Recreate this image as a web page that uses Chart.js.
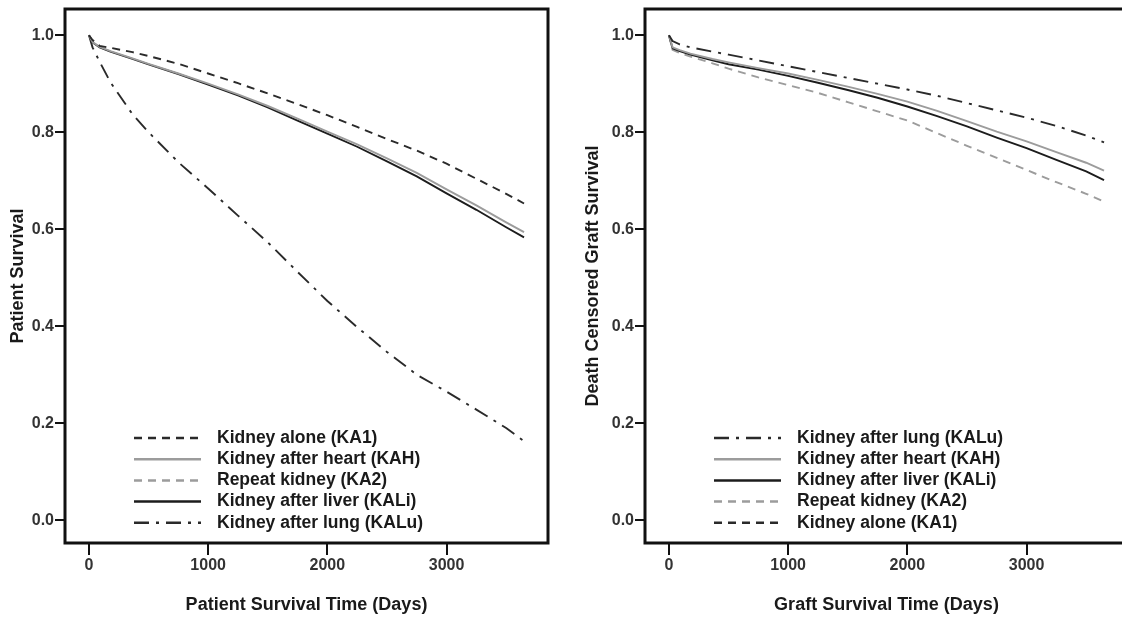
<!DOCTYPE html>
<html>
<head>
<meta charset="utf-8">
<script src="https://cdn.jsdelivr.net/npm/chart.js@4/dist/chart.umd.min.js"></script>
<style>
html, body { margin: 0; padding: 0; background: #fff; overflow: hidden; }
#wrap { position: relative; width: 1122px; height: 620px; overflow: hidden; }
#left { position: absolute; left: 0; top: 0; }
#right { position: absolute; left: 561px; top: 0; }
</style>
</head>
<body>
<div id="wrap">
  <canvas id="left" width="561" height="620"></canvas>
  <canvas id="right" width="590" height="620"></canvas>
</div>
<script>
// follow-up time in days
const days = [0, 30, 90, 180, 365, 500, 750, 1000, 1250, 1500, 1750, 2000, 2250, 2500, 2750, 3000, 3250, 3500, 3650];

// patient survival (left panel)
const patKA1  = [1.0, 0.990, 0.978, 0.974, 0.965, 0.957, 0.941, 0.921, 0.901, 0.880, 0.858, 0.835, 0.811, 0.786, 0.762, 0.735, 0.704, 0.673, 0.653];
const patKAH  = [1.0, 0.986, 0.976, 0.967, 0.952, 0.941, 0.921, 0.900, 0.878, 0.854, 0.828, 0.801, 0.775, 0.746, 0.716, 0.682, 0.649, 0.614, 0.594];
const patKA2  = [];
const patKALi = [1.0, 0.985, 0.975, 0.966, 0.951, 0.940, 0.920, 0.898, 0.876, 0.851, 0.824, 0.797, 0.770, 0.740, 0.709, 0.674, 0.640, 0.604, 0.583];
const patKALu = [1.0, 0.975, 0.945, 0.903, 0.837, 0.800, 0.738, 0.684, 0.628, 0.573, 0.512, 0.452, 0.398, 0.347, 0.300, 0.265, 0.228, 0.190, 0.163];

// death censored graft survival (right panel)
const grfKALu = [1.0, 0.988, 0.981, 0.975, 0.966, 0.960, 0.948, 0.936, 0.924, 0.912, 0.900, 0.888, 0.875, 0.860, 0.845, 0.830, 0.813, 0.793, 0.779];
const grfKAH  = [1.0, 0.975, 0.969, 0.962, 0.951, 0.944, 0.932, 0.921, 0.908, 0.894, 0.879, 0.863, 0.844, 0.823, 0.801, 0.781, 0.759, 0.737, 0.721];
const grfKALi = [1.0, 0.973, 0.967, 0.960, 0.948, 0.940, 0.929, 0.916, 0.902, 0.887, 0.871, 0.853, 0.833, 0.812, 0.789, 0.767, 0.743, 0.719, 0.701];
const grfKA2  = [1.0, 0.970, 0.963, 0.956, 0.942, 0.931, 0.913, 0.897, 0.881, 0.862, 0.843, 0.824, 0.798, 0.772, 0.747, 0.722, 0.697, 0.673, 0.657];
const grfKA1  = [];

const xTicks = [0, 1000, 2000, 3000];
const yTicks = [0.0, 0.2, 0.4, 0.6, 0.8, 1.0];

const labels = {
    KA1: 'Kidney alone (KA1)',
    KAH: 'Kidney after heart (KAH)',
    KA2: 'Repeat kidney (KA2)',
    KALi: 'Kidney after liver (KALi)',
    KALu: 'Kidney after lung (KALu)'
};

const styles = {
    KA1:  { color: '#2a2a2a', dash: [8, 6] },
    KAH:  { color: '#9c9c9c', dash: [] },
    KA2:  { color: '#9c9c9c', dash: [8, 6] },
    KALi: { color: '#1c1c1c', dash: [] },
    KALu: { color: '#2a2a2a', dash: [15, 7, 3, 7] }
};

const FONT = '"Liberation Sans", Arial, sans-serif';

function series(key, values) {
    return {
        label: labels[key],
        data: values.map((v, i) => ({ x: days[i], y: v })),
        borderColor: styles[key].color,
        borderDash: styles[key].dash,
        borderWidth: 1.9,
        pointRadius: 0,
        tension: 0,
        fill: false
    };
}

// legend drawn inside the plot box, lower left
const insideLegend = {
    id: 'insideLegend',
    afterDraw(chart) {
        const { ctx, chartArea } = chart;
        ctx.save();
        ctx.font = 'bold 17.5px ' + FONT;
        ctx.textBaseline = 'middle';
        chart.data.datasets.forEach((ds, i) => {
            const y = chartArea.top + 429 + i * 21.2;
            const x0 = chartArea.left + 69;
            ctx.strokeStyle = ds.borderColor;
            ctx.lineWidth = 2.5;
            ctx.setLineDash(ds.borderDash);
            ctx.beginPath();
            ctx.moveTo(x0, y);
            ctx.lineTo(x0 + 67, y);
            ctx.stroke();
            ctx.setLineDash([]);
            ctx.fillStyle = '#1a1a1a';
            ctx.fillText(ds.label, chartArea.left + 152, y);
        });
        ctx.restore();
    }
};

// heavy box around the plot area
const frame = {
    id: 'frame',
    afterDraw(chart) {
        const { ctx, chartArea } = chart;
        ctx.save();
        ctx.strokeStyle = '#111';
        ctx.lineWidth = 3;
        ctx.strokeRect(chartArea.left, chartArea.top, chartArea.right - chartArea.left, chartArea.bottom - chartArea.top);
        ctx.restore();
    }
};

function makeChart(canvasId, datasets, xTitle, yTitle, yWidth, yTitlePad, padRight) {
    new Chart(document.getElementById(canvasId), {
        type: 'line',
        data: { datasets: datasets },
        plugins: [insideLegend, frame],
        options: {
            responsive: false,
            animation: false,
            layout: { padding: { top: 9, right: padRight, left: 0, bottom: 0 } },
            plugins: { legend: { display: false }, tooltip: { enabled: false } },
            scales: {
                x: {
                    type: 'linear',
                    min: -201,
                    max: 3851,
                    afterBuildTicks: scale => { scale.ticks = xTicks.map(v => ({ value: v })); },
                    afterFit: scale => { scale.height = 77; scale.paddingLeft = 0; scale.paddingRight = 0; },
                    ticks: {
                        color: '#333', font: { family: FONT, size: 16, weight: 'bold' }, padding: 1, maxRotation: 0,
                        callback: v => String(v)
                    },
                    grid: { drawOnChartArea: false, drawTicks: true, tickLength: 12, color: '#111', lineWidth: 2 },
                    border: { display: false },
                    title: {
                        display: true, text: xTitle, color: '#1a1a1a',
                        font: { family: FONT, size: 18, weight: 'bold' },
                        padding: { top: 0, bottom: 4 }
                    }
                },
                y: {
                    type: 'linear',
                    min: -0.047,
                    max: 1.054,
                    afterBuildTicks: scale => { scale.ticks = yTicks.map(v => ({ value: v })); },
                    afterFit: scale => { scale.width = yWidth; scale.paddingTop = 0; scale.paddingBottom = 0; },
                    ticks: {
                        color: '#333', font: { family: FONT, size: 16, weight: 'bold' }, padding: 1,
                        callback: v => v.toFixed(1)
                    },
                    grid: { drawOnChartArea: false, drawTicks: true, tickLength: 10, color: '#111', lineWidth: 2 },
                    border: { display: false },
                    title: {
                        display: true, text: yTitle, color: '#1a1a1a',
                        font: { family: FONT, size: 18, weight: 'bold' },
                        padding: { top: yTitlePad, bottom: 0 }
                    }
                }
            }
        }
    });
}

makeChart('left', [
    series('KA1', patKA1),
    series('KAH', patKAH),
    series('KA2', patKA2),
    series('KALi', patKALi),
    series('KALu', patKALu)
], 'Patient Survival Time (Days)', 'Patient Survival', 65, 7, 13);

makeChart('right', [
    series('KALu', grfKALu),
    series('KAH', grfKAH),
    series('KALi', grfKALi),
    series('KA2', grfKA2),
    series('KA1', grfKA1)
], 'Graft Survival Time (Days)', 'Death Censored Graft Survival', 84, 21, 23);
</script>
</body>
</html>
